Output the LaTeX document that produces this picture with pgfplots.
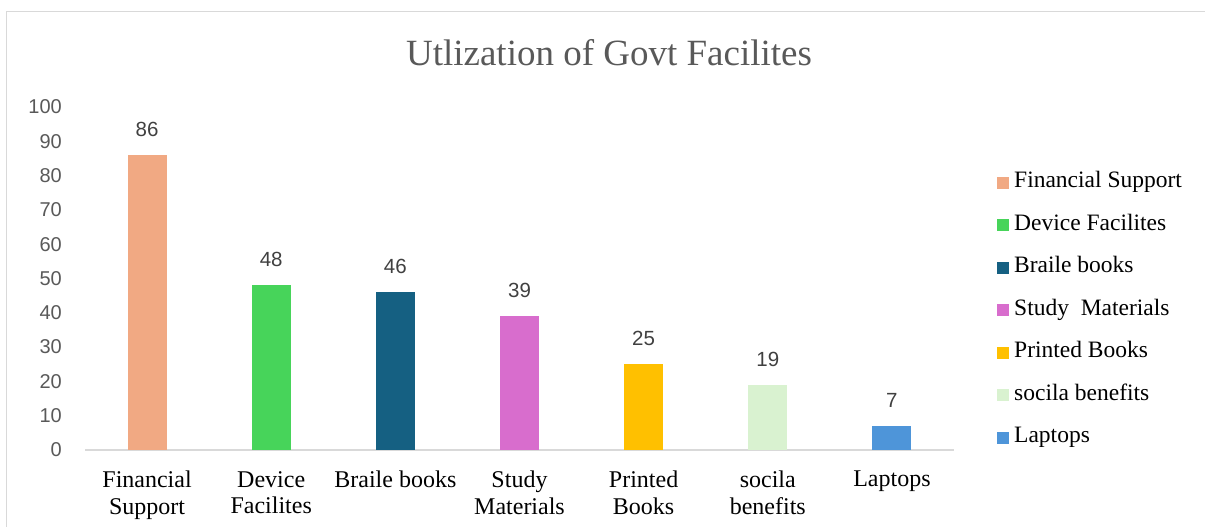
\documentclass[border=0pt]{standalone}
\usepackage{fontspec}
\setmainfont{Liberation Serif}
\newfontfamily\tickfont{Liberation Sans}
\usepackage{pgfplots}
\pgfplotsset{compat=1.18}
\definecolor{cFin}{HTML}{F1A983}
\definecolor{cDev}{HTML}{47D45A}
\definecolor{cBra}{HTML}{156082}
\definecolor{cStu}{HTML}{D86DCD}
\definecolor{cPri}{HTML}{FFC000}
\definecolor{cSoc}{HTML}{D9F2D0}
\definecolor{cLap}{HTML}{4E95D9}
\definecolor{gridgray}{HTML}{D9D9D9}
\definecolor{txtgray}{HTML}{595959}
\begin{document}
\begin{tikzpicture}[x=1pt,y=1pt]
\useasboundingbox (0,0) rectangle (1205,527);
\draw[gridgray,line width=1.2pt] (6.5,-20) -- (6.5,515.5) -- (1210,515.5);
\begin{axis}[
  at={(85pt,77pt)}, anchor=south west,
  scale only axis, width=869pt, height=343pt,
  ybar, bar width=39pt, bar shift=0pt,
  xmin=-0.5, xmax=6.5, ymin=0, ymax=100,
  ytick={0,10,...,100},
  xtick={0,...,6},
  xticklabels={Financial\\Support, Device\\Facilites, Braile books, Study\\Materials, Printed\\Books, socila\\benefits, Laptops},
  axis x line*=bottom,
  axis y line*=left,
  x axis line style={gridgray, line width=1.2pt, -},
  y axis line style={draw=none},
  major tick length=0pt,
  /pgf/number format/assume math mode=true,
  yticklabel style={font=\tickfont\fontsize{20}{22}\selectfont, text=txtgray, anchor=east, inner sep=0pt, xshift=-23pt},
  xticklabel style={font=\fontsize{24}{26.5}\selectfont, align=center, anchor=north, inner sep=0pt, yshift=-21pt, text=black},
  nodes near coords,
  nodes near coords style={font=\tickfont\fontsize{20.5}{22}\selectfont, text=black!75, anchor=south, inner sep=0pt, yshift=18pt},
  title={Utlization of Govt Facilites},
  title style={font=\fontsize{37}{40}\selectfont, text=txtgray, at={(0.603,1)}, anchor=base, yshift=35pt, inner sep=0pt},
  legend style={draw=none, fill=none, at={(1.046,0.408)}, anchor=west,
    font=\fontsize{23.5}{25}\selectfont, row sep=22.5pt,
    nodes={inner sep=0pt, text height=15pt, text depth=5pt}},
  legend cell align=left,
  legend image code/.code={\fill[#1,draw=none] (0pt,-6pt) rectangle (12pt,6pt); \path (17pt,0pt);},
]
\addplot[fill=cFin,draw=none] coordinates {(0,86)};
\addplot[fill=cDev,draw=none] coordinates {(1,48)};
\addplot[fill=cBra,draw=none] coordinates {(2,46)};
\addplot[fill=cStu,draw=none] coordinates {(3,39)};
\addplot[fill=cPri,draw=none] coordinates {(4,25)};
\addplot[fill=cSoc,draw=none] coordinates {(5,19)};
\addplot[fill=cLap,draw=none] coordinates {(6,7)};
\legend{Financial Support, Device Facilites, Braile books, Study\ \ Materials, Printed Books, socila benefits, Laptops}
\end{axis}
\end{tikzpicture}
\end{document}
